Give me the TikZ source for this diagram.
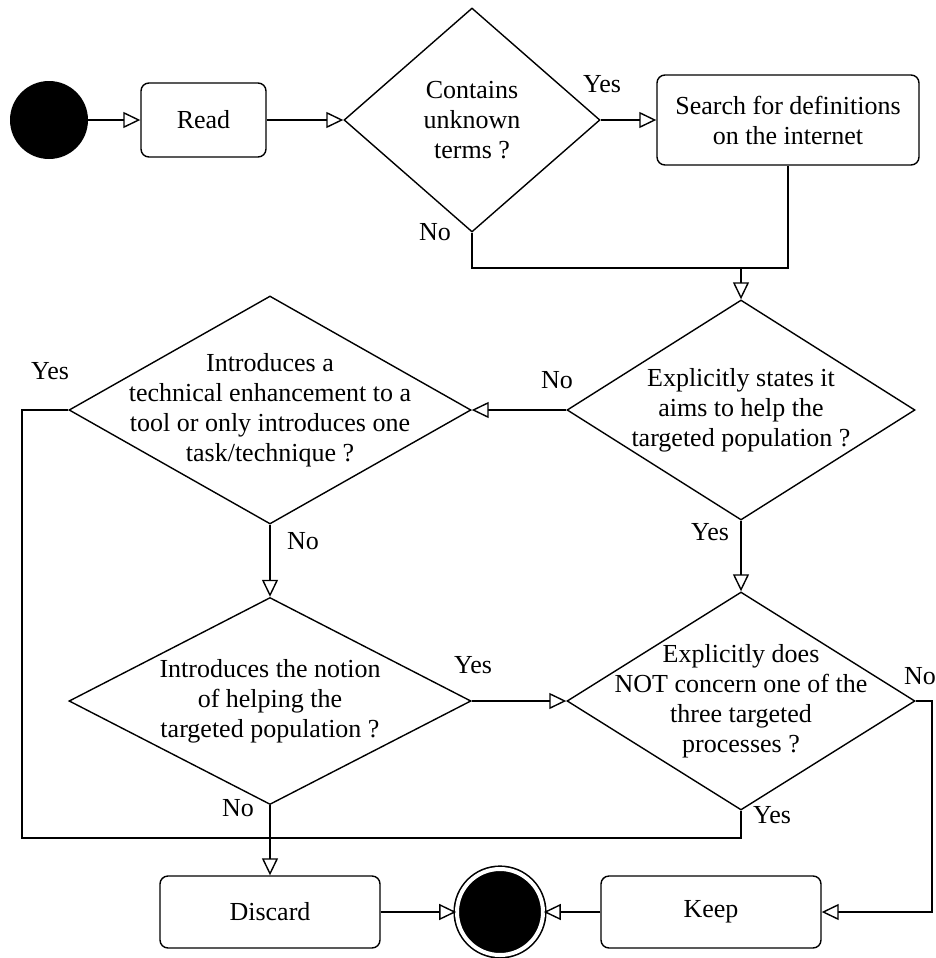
\documentclass[tikz,border=0pt]{standalone}
\usepackage{fontspec}
\setmainfont{Liberation Serif}
\usetikzlibrary{shapes.geometric,arrows.meta}
\begin{document}
\begin{tikzpicture}[x=1pt,y=-1pt,
  font=\fontsize{26}{30}\selectfont,
  line/.style={line width=1.4pt},
  arr/.style={line width=1.4pt,-{Triangle[length=17pt,width=16pt,fill=white]}},
  box/.style={draw,rounded corners=8pt,line width=1.4pt,inner sep=0pt,align=center,minimum width=220pt,minimum height=72pt},
  dec/.style={draw,diamond,inner sep=0pt,line width=1.4pt},
  lbl/.style={inner sep=0pt},
  dtext/.style={align=center,inner sep=0pt}]
\useasboundingbox (0,0) rectangle (936,958);

\node[circle,fill=black,minimum size=78pt,inner sep=0pt] (start) at (49,120) {};
\node[box,minimum width=125pt,minimum height=74pt] (read) at (203.5,120) {Read};
\node[dec,minimum width=256pt,minimum height=224pt,
  label={[dtext]center:Contains\\unknown\\terms ?}] (d1) at (472,120) {};
\node[box,minimum width=262pt,minimum height=90pt] (search) at (788,120) {Search for definitions\\on the internet};

\node[dec,minimum width=348pt,minimum height=220pt,
  label={[dtext]center:Explicitly states it\\aims to help the\\targeted population ?}] (d2) at (741,410) {};
\node[dec,minimum width=402pt,minimum height=228pt,
  label={[dtext]center:Introduces a\\technical enhancement to a\\tool or only introduces one\\task/technique ?}] (d3) at (270,410) {};
\node[dec,minimum width=402pt,minimum height=207pt,
  label={[dtext]center:Introduces the notion\\of helping the\\targeted population ?}] (d5) at (270,701) {};
\node[dec,minimum width=348pt,minimum height=218pt,
  label={[dtext]center:Explicitly does\\NOT concern one of the\\three targeted\\processes ?}] (d4) at (741,701) {};

\node[box] (discard) at (270,912) {Discard};
\node[box] (keep) at (711,912) {Keep};
\node[circle,fill=black,draw=black,double=white,double distance=4pt,line width=1.6pt,minimum size=86pt,inner sep=0pt] (end) at (500,912) {};

\coordinate (m1) at (741,268);
\coordinate (lp) at (22,838);
\coordinate (rp) at (932,701);

\draw[arr] (start) -- (read);
\draw[arr] (read) -- (d1);
\draw[arr] (d1) -- (search);
\draw[line] (d1.south) |- (search.south |- m1) -- (search.south);
\draw[arr] (m1) -- (d2.north);
\draw[arr] (d2.west) -- (d3.east);
\draw[arr] (d2.south) -- (d4.north);
\draw[arr] (d3.south) -- (d5.north);
\draw[arr] (d5.east) -- (d4.west);
\draw[arr] (d5.south) -- (discard.north);
\draw[line] (d3.west) -| (lp) -| (d4.south);
\draw[arr] (d4.east) -- (rp) |- (keep.east);
\draw[arr] (discard) -- (end);
\draw[arr] (keep) -- (end);

\node[lbl] (y1) at (602,84) {Yes};
\node[lbl] (n1) at (435,232) {No};
\node[lbl] (n2) at (557,380) {No};
\node[lbl] (y2) at (710,532) {Yes};
\node[lbl] (y3) at (50,371) {Yes};
\node[lbl] (n3) at (303,541) {No};
\node[lbl] (y5) at (473,665) {Yes};
\node[lbl] (n5) at (238,808) {No};
\node[lbl] (n4) at (920,676) {No};
\node[lbl] (y4) at (772,815) {Yes};
\end{tikzpicture}
\end{document}
